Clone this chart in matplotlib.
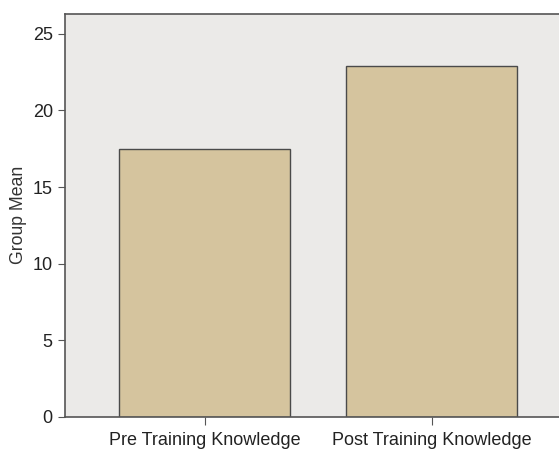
import matplotlib
matplotlib.use("Agg")
import matplotlib.pyplot as plt

categories = ["Pre Training Knowledge", "Post Training Knowledge"]
means = [17.5, 22.9]
yticks = [0, 5, 10, 15, 20, 25]

plt.rcParams['font.family'] = ['Liberation Sans', 'DejaVu Sans']

W, H = 559, 450
fig = plt.figure(figsize=(W/100, H/100), dpi=100)
left, right, top, bottom = 65.3, 571.3, 14, 416.7
ax = fig.add_axes([left/W, 1 - bottom/H, (right-left)/W, (bottom-top)/H])
ax.set_facecolor('#EBEAE8')
x = list(range(len(categories)))
ax.bar(x, means, width=0.752, color='#D5C49E', edgecolor='#4a4a4a', linewidth=1.0, zorder=2)
ax.set_xlim(-0.613, 1.613)
ax.set_ylim(0, 26.3)
ax.set_yticks(yticks)
ax.set_xticks(x)
ax.set_xticklabels(categories, fontsize=13, color='#222222')
ax.tick_params(axis='y', labelsize=13, labelcolor='#222222', length=5, color='#555555', pad=4)
ax.tick_params(axis='x', length=6, color='#555555', pad=5)
ax.set_ylabel('Group Mean', fontsize=12.7, color='#333333', labelpad=4)
for s in ['left', 'bottom', 'top']:
    ax.spines[s].set_color('#555555')
    ax.spines[s].set_linewidth(1.2)
ax.spines['right'].set_visible(False)
fig.savefig('out.png', dpi=100)
